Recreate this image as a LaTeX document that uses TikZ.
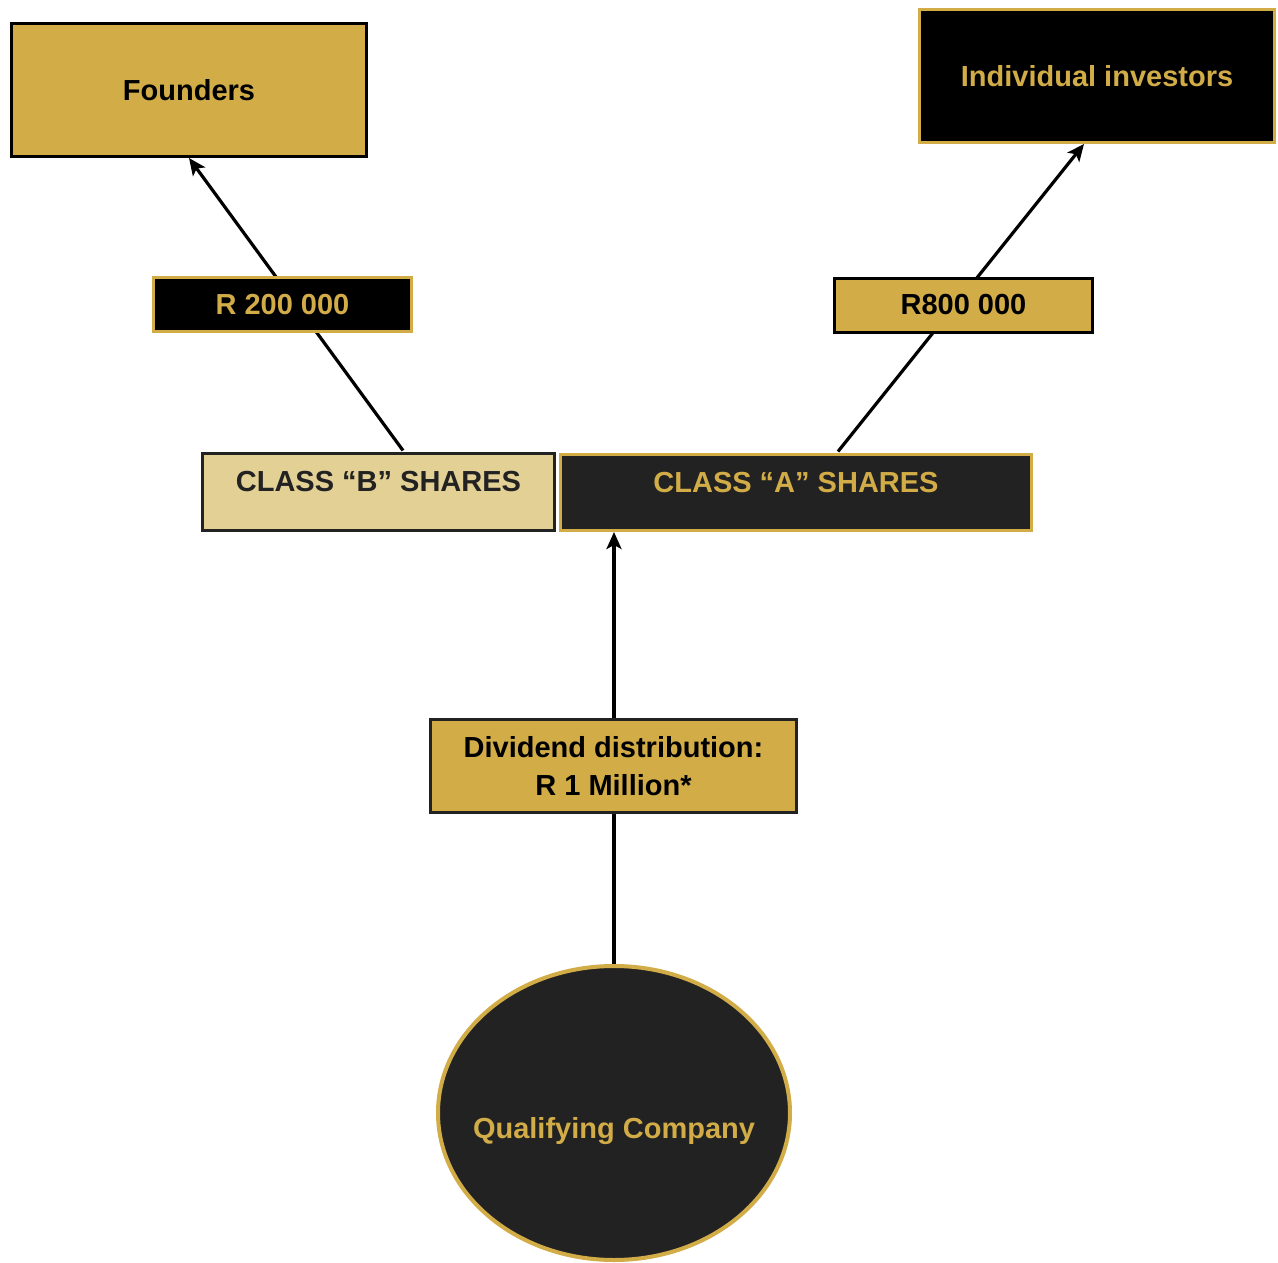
\documentclass[tikz,border=0pt]{standalone}
\usepackage{fontspec}
\setmainfont{Liberation Sans}
\usetikzlibrary{arrows.meta,backgrounds,shapes.geometric}
\definecolor{gold}{HTML}{D1AC47}
\definecolor{dark}{HTML}{222222}
\definecolor{lightgold}{HTML}{E3D095}
\begin{document}
\begin{tikzpicture}[x=1pt,y=-1pt,
  lab/.style={font=\fontsize{29}{38}\selectfont\bfseries, inner sep=0pt, line width=3pt, align=center},
  goldbox/.style={lab, fill=gold, draw=black, text=black},
  blackbox/.style={lab, fill=black, draw=gold, text=gold},
  conn/.style={line width=3.2pt, black},
  tip/.style={-{Stealth[length=17pt,width=15pt,inset=4pt]}}
]
\useasboundingbox (0,0) rectangle (1278,1263);

% top boxes
\node[goldbox, minimum width=355pt, minimum height=133pt] (founders) at (189,90) {Founders};
\node[blackbox, minimum width=355pt, minimum height=133pt] (inv) at (1097,76) {\raisebox{-1pt}{Individual investors}};

% amount labels
\node[blackbox, minimum width=258pt, minimum height=54pt] (r200) at (282.5,304.5) {R 200 000};
\node[goldbox, minimum width=258pt, minimum height=54pt] (r800) at (963.5,305) {R800 000};

% share classes
\node[lab, fill=lightgold, draw=dark, minimum width=352pt, minimum height=77pt] (bsh) at (378.5,492) {};
\node[lab, text=dark] at (378.5,482) {CLASS “B” SHARES};
\node[lab, fill=dark, draw=gold, minimum width=471pt, minimum height=76pt] (ash) at (796,492.5) {};
\node[lab, text=gold] at (796,483) {CLASS “A” SHARES};

% dividend
\node[goldbox, draw=dark, minimum width=366pt, minimum height=93pt] (div) at (613.5,766) {Dividend distribution:\\R 1 Million*};

% company
\node[ellipse, fill=dark, draw=gold, line width=4pt, minimum width=352pt, minimum height=294pt, inner sep=0pt] (qc) at (614,1113) {};
\node[lab, text=gold] at (614,1131) {Qualifying Company};

% connectors
\begin{scope}[on background layer]
  \fill[white] (0,0) rectangle (1278,1263);
  \draw[conn, tip] (403,0 |- bsh.north) ++(0,-1.5) -- (founders.south);
  \draw[conn, tip] (838,0 |- ash.north) ++(0,-1.5) -- ([xshift=-13pt]inv.south);
  \draw[conn, tip] (qc.north) -- (614,0 |- ash.south);
\end{scope}
\end{tikzpicture}
\end{document}
